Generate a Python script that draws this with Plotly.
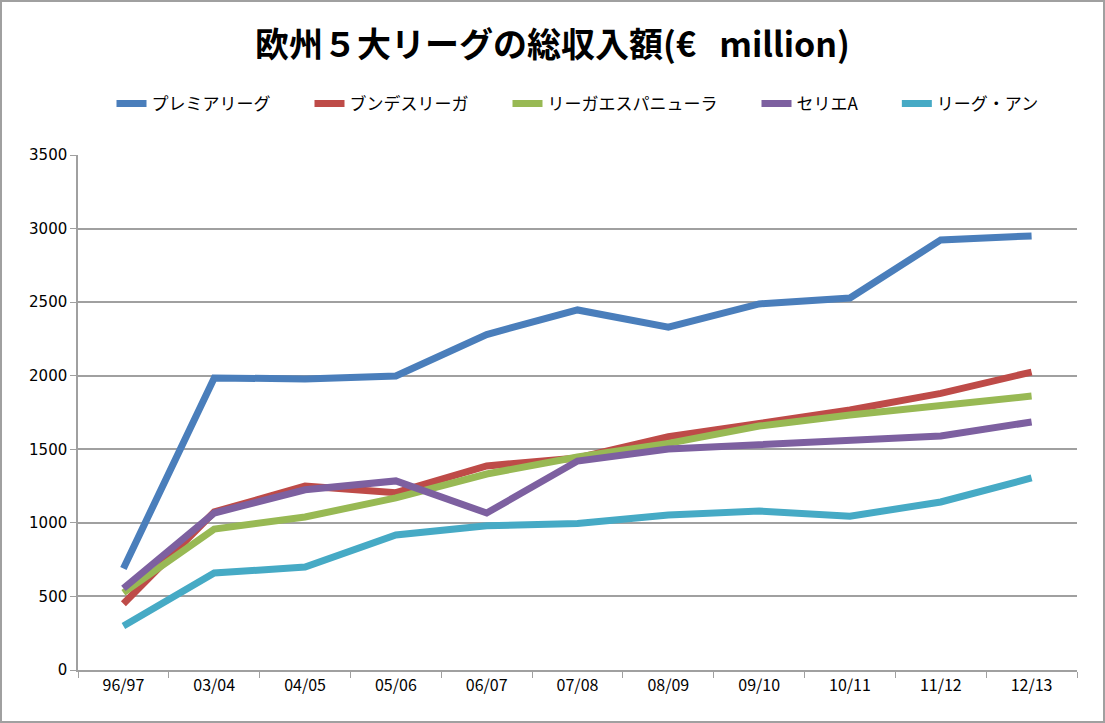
import plotly.graph_objects as go

seasons = ["96/97", "03/04", "04/05", "05/06", "06/07", "07/08", "08/09", "09/10", "10/11", "11/12", "12/13"]

premier = [690, 1985, 1978, 1998, 2280, 2447, 2330, 2488, 2528, 2923, 2950]
bundesliga = [450, 1074, 1250, 1205, 1387, 1441, 1585, 1680, 1767, 1880, 2025]
laliga = [525, 958, 1040, 1170, 1332, 1448, 1540, 1658, 1733, 1795, 1862]
seriea = [555, 1067, 1225, 1285, 1067, 1420, 1502, 1535, 1560, 1590, 1686]
ligue1 = [299, 659, 700, 918, 980, 995, 1053, 1080, 1045, 1142, 1305]

names = ["プレミアリーグ", "ブンデスリーガ", "リーガエスパニューラ", "セリエA", "リーグ・アン"]
series = [premier, bundesliga, laliga, seriea, ligue1]
colors = ["#4A7EBB", "#BE4B48", "#98B954", "#7D60A0", "#46AAC5"]

fig = go.Figure()
for i, (n, s, c) in enumerate(zip(names, series, colors)):
    pad = "\u3000\u2003" if i < len(names) - 1 else ""
    fig.add_trace(go.Scatter(x=seasons, y=s, name=n + pad, mode="lines",
                             line=dict(color=c, width=7)))

fig.update_layout(
    width=1105, height=723,
    paper_bgcolor="white", plot_bgcolor="white",
    margin=dict(l=78, r=28, t=155, b=53),
    font=dict(family="Noto Sans CJK JP", color="black"),
    title=dict(text="<b>欧州５大リーグの総収入額(€\u00a0\u00a0\u00a0million)</b>",
               x=0.5, xanchor="center", y=1 - 45 / 723, yanchor="middle",
               font=dict(size=34, family="Noto Sans CJK JP", color="black")),
    legend=dict(orientation="h", x=0.5, xanchor="center",
                yref="container", y=1 - 104 / 723, yanchor="middle",
                font=dict(size=17, family="Noto Sans CJK JP"),
                itemwidth=30, tracegroupgap=0),
    showlegend=True,
)
fig.update_xaxes(showline=True, linecolor="#A0A0A0", linewidth=1.5,
                 ticks="outside", tickson="boundaries", ticklen=6, tickcolor="#A0A0A0",
                 showgrid=False, tickfont=dict(size=16, family="Noto Sans CJK JP"),
                 range=[-0.5, 10.5])
fig.update_yaxes(range=[0, 3500], dtick=500, showline=True, linecolor="#A0A0A0", linewidth=1.5,
                 ticks="outside", ticklen=6, tickcolor="#A0A0A0",
                 showgrid=True, gridcolor="#A0A0A0", gridwidth=1.5, zeroline=False,
                 tickfont=dict(size=15, family="DejaVu Sans"))

fig.add_shape(type="rect", xref="paper", yref="paper",
              x0=-77 / 999, x1=1 + 27 / 999, y0=-52 / 515, y1=1 + 154 / 515,
              line=dict(color="#A0A0A0", width=2), fillcolor="rgba(0,0,0,0)", layer="below")

fig.write_html("out.html", config={"displayModeBar": False},
               post_script="document.body.style.margin='0';")
